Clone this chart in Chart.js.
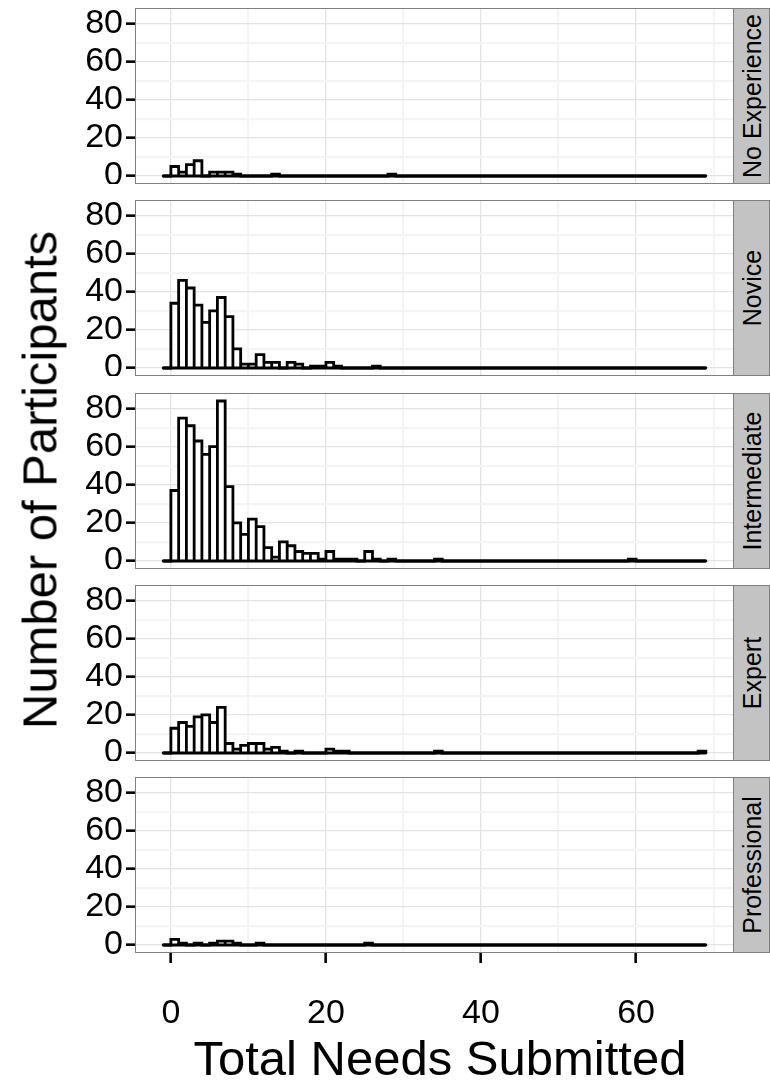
<!DOCTYPE html>
<html><head><meta charset="utf-8">
<script src="https://cdn.jsdelivr.net/npm/chart.js@4/dist/chart.umd.min.js"></script>
<style>
body{margin:0;background:#fff;}
#wrap{position:relative;width:770px;height:1090px;overflow:hidden;font-family:"Liberation Sans",Arial,sans-serif;color:#000;}
canvas{position:absolute;left:0;}
.pborder{position:absolute;box-sizing:border-box;border:1.5px solid #7f7f7f;pointer-events:none;}
.strip{position:absolute;box-sizing:border-box;background:#c3c3c3;border:1.5px solid #7f7f7f;border-left:none;}
.strip span{position:absolute;left:50%;top:50%;transform:translate(-50%,-50%) rotate(-90deg);white-space:nowrap;font-size:25px;line-height:25px;}
.title{position:absolute;white-space:nowrap;font-size:49px;line-height:49px;}
</style>
</head><body>
<div id="wrap"></div>
<script>
// ---- data (bins of width 1, first bin starts at -1) ----
const binStarts = [-1,0,1,2,3,4,5,6,7,8,9,10,11,12,13,14,15,16,17,18,19,20,21,22,23,24,25,26,27,28,29,30,31,32,33,34,35,36,37,38,39,40,41,42,43,44,45,46,47,48,49,50,51,52,53,54,55,56,57,58,59,60,61,62,63,64,65,66,67,68];
const facetLabels = ["No Experience","Novice","Intermediate","Expert","Professional"];
const noExperience = [0,5,2,6,8,0,2,2,2,1, 0,0,0,0,1,0,0,0,0,0, 0,0,0,0,0,0,0,0,0,1, 0,0,0,0,0,0,0,0,0,0, 0,0,0,0,0,0,0,0,0,0, 0,0,0,0,0,0,0,0,0,0, 0,0,0,0,0,0,0,0,0,0];
const novice       = [0,34,46,42,33,24,30,37,27,10, 2,2,7,3,3,0,3,2,0,1, 1,3,1,0,0,0,0,1,0,0, 0,0,0,0,0,0,0,0,0,0, 0,0,0,0,0,0,0,0,0,0, 0,0,0,0,0,0,0,0,0,0, 0,0,0,0,0,0,0,0,0,0];
const intermediate = [0,37,75,71,63,56,60,84,39,20, 14,22,18,7,2,10,8,5,4,4, 1,5,1,1,1,0,5,1,0,1, 0,0,0,0,0,1,0,0,0,0, 0,0,0,0,0,0,0,0,0,0, 0,0,0,0,0,0,0,0,0,0, 1,0,0,0,0,0,0,0,0,0];
const expert       = [0,13,16,14,19,20,16,24,5,2, 4,5,5,2,3,1,0,1,0,0, 0,2,1,1,0,0,0,0,0,0, 0,0,0,0,0,1,0,0,0,0, 0,0,0,0,0,0,0,0,0,0, 0,0,0,0,0,0,0,0,0,0, 0,0,0,0,0,0,0,0,0,1];
const professional = [0,3,1,0,1,0,1,2,2,1, 0,0,1,0,0,0,0,0,0,0, 0,0,0,0,0,0,1,0,0,0, 0,0,0,0,0,0,0,0,0,0, 0,0,0,0,0,0,0,0,0,0, 0,0,0,0,0,0,0,0,0,0, 0,0,0,0,0,0,0,0,0,0];
const yMajorTicks = [0,20,40,60,80];
const yMinorTicks = [10,30,50,70];
const xMajorTicks = [0,20,40,60];
const xMinorTicks = [10,30,50,70];
const seriesList = [noExperience, novice, intermediate, expert, professional];

// ---- layout ----
const wrap = document.getElementById('wrap');
const panelLeft = 136, panelRight = 733, panelH = 176;
const panelTops = [8, 200.25, 392.5, 584.75, 777];
const xMin = -4.5, xMax = 72.5, yMin = -4.2, yMax = 88.2;
const FONT = '"Liberation Sans", Arial, sans-serif';

function sortedTicks(a, b){ return a.concat(b).sort((p,q)=>p-q).map(v=>({value:v})); }
function noPad(s){ s.paddingTop = 0; s.paddingBottom = 0; s.paddingLeft = 0; s.paddingRight = 0; }

seriesList.forEach((counts, i) => {
  const isBottom = i === seriesList.length - 1;
  const axisH = isBottom ? 80 : 0;
  const top = Math.round(panelTops[i]);
  const c = document.createElement('canvas');
  c.width = panelRight; c.height = panelH + axisH;
  c.style.top = top + 'px';
  c.style.width = panelRight + 'px'; c.style.height = (panelH + axisH) + 'px';
  wrap.appendChild(c);

  const barPts = counts.map((v, k) => ({x: binStarts[k] + 0.5, y: v}));
  const outline = [];
  counts.forEach((v, k) => {
    const s = binStarts[k];
    outline.push({x: s, y: 0}, {x: s, y: v}, {x: s + 1, y: v}, {x: s + 1, y: 0});
  });
  const lastEdge = binStarts[binStarts.length - 1] + 1;
  const baseline = [{x: binStarts[0], y: 0}, {x: lastEdge, y: 0}];

  new Chart(c.getContext('2d'), {
    data: {
      datasets: [
        {type:'line', data: baseline, borderColor:'#000', borderWidth:2.8, pointRadius:0, fill:false, tension:0, borderCapStyle:'round', order:0},
        {type:'line', data: outline, borderColor:'#000', borderWidth:2.8, pointRadius:0, fill:false, tension:0, borderJoinStyle:'miter', borderCapStyle:'butt', order:1},
        {type:'bar', data: barPts, backgroundColor:'#fff', borderWidth:0, barPercentage:1, categoryPercentage:1, order:2}
      ]
    },
    options: {
      responsive:false, maintainAspectRatio:false, animation:false, devicePixelRatio:1,
      layout:{padding:0},
      plugins:{legend:{display:false}, tooltip:{enabled:false}},
      scales:{
        x:{
          type:'linear', min:xMin, max:xMax, offset:false,
          afterBuildTicks: s => { s.ticks = sortedTicks(xMajorTicks, xMinorTicks); },
          afterFit: s => { s.height = axisH; noPad(s); },
          border:{display:false},
          grid:{
            offset:false,
            color: ctx => xMajorTicks.includes(ctx.tick.value) ? '#e3e3e3' : '#f4f4f4',
            lineWidth: ctx => xMajorTicks.includes(ctx.tick.value) ? 1.3 : 2.2,
            drawTicks: isBottom, tickLength: 10, tickWidth: 2.6,
            tickColor: ctx => xMajorTicks.includes(ctx.tick.value) ? '#000' : 'rgba(0,0,0,0)'
          },
          ticks:{
            display: isBottom, autoSkip:false, maxRotation:0, minRotation:0, padding:30,
            color:'#000', font:{family:FONT, size:34},
            callback: v => xMajorTicks.includes(v) ? String(v) : ''
          }
        },
        y:{
          type:'linear', min:yMin, max:yMax,
          afterBuildTicks: s => { s.ticks = sortedTicks(yMajorTicks, yMinorTicks); },
          afterFit: s => { s.width = panelLeft; noPad(s); },
          border:{display:false},
          grid:{
            color: ctx => yMajorTicks.includes(ctx.tick.value) ? '#e3e3e3' : '#f4f4f4',
            lineWidth: ctx => yMajorTicks.includes(ctx.tick.value) ? 1.3 : 2.2,
            drawTicks:true, tickLength:10, tickWidth:2.6,
            tickColor: ctx => yMajorTicks.includes(ctx.tick.value) ? '#000' : 'rgba(0,0,0,0)'
          },
          ticks:{
            autoSkip:false, padding:3, color:'#000', font:{family:FONT, size:34},
            callback: v => yMajorTicks.includes(v) ? String(v) : ''
          }
        }
      }
    }
  });

  const b = document.createElement('div');
  b.className = 'pborder';
  b.style.left = (panelLeft - 1) + 'px'; b.style.top = top + 'px';
  b.style.width = (panelRight - panelLeft + 2) + 'px'; b.style.height = panelH + 'px';
  wrap.appendChild(b);

  const st = document.createElement('div');
  st.className = 'strip';
  st.style.left = (panelRight + 1) + 'px'; st.style.top = top + 'px';
  st.style.width = (770 - panelRight - 1) + 'px'; st.style.height = panelH + 'px';
  const sp = document.createElement('span'); sp.textContent = facetLabels[i];
  st.appendChild(sp); wrap.appendChild(st);
});

const xt = document.createElement('div');
xt.className = 'title'; xt.textContent = 'Total Needs Submitted';
xt.style.left = '440px'; xt.style.top = '1058px'; xt.style.transform = 'translate(-50%,-50%)';
wrap.appendChild(xt);
const yt = document.createElement('div');
yt.className = 'title'; yt.textContent = 'Number of Participants';
yt.style.left = '40px'; yt.style.top = '480px'; yt.style.transform = 'translate(-50%,-50%) rotate(-90deg)';
wrap.appendChild(yt);
</script>
</body></html>
